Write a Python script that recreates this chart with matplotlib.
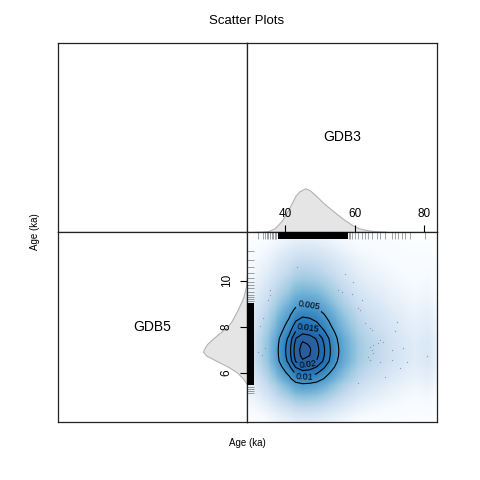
import numpy as np
import matplotlib
matplotlib.use("Agg")
import matplotlib.pyplot as plt
from matplotlib.colors import LinearSegmentedColormap, PowerNorm

plt.rcParams['font.family'] = ['Liberation Sans', 'DejaVu Sans']

# marginal density of GDB3 (relative to its peak)
gdb3_x = [31, 33, 35, 37, 39, 41, 43, 44, 45.7, 47, 49, 51, 53, 55, 57, 59, 61, 63, 65, 67, 69]
gdb3_density = [0, 0.005, 0.016, 0.09, 0.26, 0.53, 0.84, 0.93, 1.0, 0.96, 0.82, 0.66,
                0.53, 0.40, 0.28, 0.17, 0.09, 0.05, 0.025, 0.011, 0.005]

# marginal density of GDB5 (relative to its peak)
gdb5_y = [5.5, 5.75, 6.0, 6.25, 6.5, 6.75, 6.91, 7.0, 7.25, 7.5, 7.75, 8.0, 8.25,
          8.5, 8.75, 9.0, 9.25, 9.5, 9.75, 10.0, 10.25]
gdb5_density = [0, 0.09, 0.22, 0.42, 0.68, 0.93, 1.0, 0.99, 0.91, 0.77, 0.61, 0.45,
                0.35, 0.28, 0.21, 0.15, 0.09, 0.055, 0.023, 0.007, 0]

# smoothed joint density: profiles along each axis of the grid
grid_x = [29, 31, 33, 35, 37, 39, 41, 43, 45, 47, 49, 51, 53, 55, 57, 59, 61, 63,
          65, 67, 69, 71, 73, 75, 77, 79, 81, 83]
grid_x_profile = [0.002, 0.005, 0.015, 0.04, 0.11, 0.26, 0.45, 0.82, 0.98, 0.93, 0.8,
                  0.58, 0.36, 0.2, 0.11, 0.06, 0.03, 0.018, 0.012, 0.008, 0.005, 0.003,
                  0.002, 0.0012, 0.0008, 0.001, 0.0015, 0.0004]
grid_y = [4.0, 4.25, 4.5, 4.75, 5.0, 5.25, 5.5, 5.75, 6.0, 6.25, 6.5, 6.75, 7.0, 7.25,
          7.5, 7.75, 8.0, 8.25, 8.5, 8.75, 9.0, 9.25, 9.5, 9.75, 10.0, 10.25, 10.5,
          10.75, 11.0, 11.25, 11.5, 11.75, 12.0]
grid_y_profile = [0.001, 0.003, 0.009, 0.022, 0.05, 0.1, 0.17, 0.32, 0.48, 0.68, 0.9,
                  0.98, 1.0, 0.96, 0.88, 0.7, 0.55, 0.44, 0.34, 0.25, 0.17, 0.12, 0.08,
                  0.055, 0.035, 0.022, 0.014, 0.009, 0.005, 0.0025, 0.0012, 0.0005, 0.0002]
joint_peak = 0.0275
contour_levels = [0.005, 0.01, 0.015, 0.02, 0.025]

# sparse points shown by the smoothed scatter
pts_x = [57.2, 59.6, 55.3, 56.2, 59.1, 62.0, 61.0, 61.5, 72.1, 62.9, 64.4, 64.9, 71.6,
         67.3, 68.2, 66.8, 65.3, 64.4, 74.0, 64.9, 70.6, 65.3, 63.9, 64.4, 67.3, 70.6,
         74.9, 73.0, 68.7, 61.0, 80.7, 32.7, 33.6, 34.2, 33.3, 32.1, 35.0, 35.6, 43.3, 35.6]
pts_y = [10.3, 9.96, 9.6, 9.52, 9.42, 9.16, 8.8, 8.73, 8.22, 8.18, 7.93, 7.86, 7.83,
         7.42, 7.35, 7.28, 7.2, 7.13, 7.06, 6.99, 6.99, 6.84, 6.7, 6.55, 6.48, 6.55,
         6.48, 6.2, 5.83, 5.54, 6.73, 8.05, 8.36, 7.06, 6.76, 6.9, 9.16, 9.6, 10.6, 9.4]

# rugs: dense stretch plus the separate marks
gdb3_rug_dense = (37.8, 58.0)
gdb3_rug = [32.2, 33.7, 34.2, 34.6, 35.1, 35.6, 36.1, 36.5, 37.0, 37.4, 58.3, 58.6,
            59.1, 60.1, 61.0, 62.0, 63.0, 63.9, 64.9, 66.3, 67.3, 68.7, 70.6, 71.6,
            72.5, 73.5, 74.4, 75.9, 80.2]
gdb5_rug_dense = (5.45, 9.05)
gdb5_rug = [11.3, 10.9, 10.6, 10.33, 10.1, 9.95, 9.81, 9.68, 9.52, 9.4, 9.3, 9.2, 9.1,
            5.4, 5.3, 5.2, 5.1]

gdb3_ticks = [40, 60, 80]
gdb5_ticks = [6, 8, 10]
xlim = (28.98, 83.65)
ylim = (3.86, 12.12)

fig = plt.figure(figsize=(4.8, 4.8), dpi=100)
L, M, R = 0.1198, 0.5146, 0.9104
B, C, T = 0.1208, 0.5167, 0.9104
ax_tl = fig.add_axes([L, C, M - L, T - C])
ax_tr = fig.add_axes([M, C, R - M, T - C])
ax_bl = fig.add_axes([L, B, M - L, C - B])
ax_br = fig.add_axes([M, B, R - M, C - B])

for ax in (ax_tl, ax_tr, ax_bl, ax_br):
    ax.set_xticks([])
    ax.set_yticks([])
    for s in ax.spines.values():
        s.set_linewidth(0.9)
        s.set_color('#222222')

ax_tl.set_xlim(0, 1)
ax_tl.set_ylim(0, 1)

# GDB3 marginal
ax_tr.fill_between(gdb3_x, 0, gdb3_density, facecolor='#E5E5E5', edgecolor='#B3B3B3', lw=0.8)
ax_tr.set_xlim(xlim)
ax_tr.set_ylim(0, 4.33)
ax_tr.text(0.5, 0.5, 'GDB3', transform=ax_tr.transAxes, ha='center', va='center', fontsize=10)
ax_tr.set_xticks(gdb3_ticks)
ax_tr.tick_params(axis='x', direction='in', length=5, width=0.8, pad=-17, labelsize=8.5)

# GDB5 marginal
ax_bl.fill_betweenx(gdb5_y, 0, gdb5_density, facecolor='#E5E5E5', edgecolor='#B3B3B3', lw=0.8)
ax_bl.set_xlim(4.32, 0)
ax_bl.set_ylim(ylim)
ax_bl.text(0.5, 0.5, 'GDB5', transform=ax_bl.transAxes, ha='center', va='center', fontsize=10)
ax_bl.set_yticks(gdb5_ticks)
ax_bl.tick_params(axis='y', left=False, right=True, labelleft=False, labelright=True,
                  direction='in', length=5, width=0.8, pad=-19, labelsize=8.5,
                  labelrotation=90)
for lab in ax_bl.get_yticklabels():
    lab.set_verticalalignment('center')

# smoothed scatter
field = joint_peak * np.outer(grid_y_profile, grid_x_profile)
blues = ["#FFFFFF", "#F7FBFF", "#DEEBF7", "#C6DBEF", "#9ECAE1", "#6BAED6",
         "#4292C6", "#2171B5", "#2A5C9C"]
cmap = LinearSegmentedColormap.from_list('ramp', blues)
dx = (grid_x[1] - grid_x[0]) / 2
dy = (grid_y[1] - grid_y[0]) / 2
ax_br.imshow(field, origin='lower', cmap=cmap, norm=PowerNorm(0.2, vmin=0, vmax=field.max()),
             extent=(grid_x[0] - dx, grid_x[-1] + dx, grid_y[0] - dy, grid_y[-1] + dy),
             interpolation='bilinear', aspect='auto')
cs = ax_br.contour(grid_x, grid_y, field, levels=contour_levels, colors='black', linewidths=0.8)
ax_br.clabel(cs, levels=[0.005, 0.01, 0.015, 0.02], fmt=lambda v: f'{v:g}', fontsize=6.5,
             inline=True, inline_spacing=2,
             manual=[(46.8, 8.84), (46.4, 7.93), (46.2, 6.55), (45.4, 5.83)])
ax_br.scatter(pts_x, pts_y, s=0.9, color='#9A9A9A', lw=0, zorder=3)

xt = ax_br.get_xaxis_transform()
yt = ax_br.get_yaxis_transform()
rug = 0.036
ax_br.axvspan(*gdb3_rug_dense, ymin=1 - rug, ymax=1, color='black', lw=0, zorder=4)
ax_br.vlines(gdb3_rug, 1 - rug, 1, transform=xt, color='black', lw=0.5, alpha=0.5, zorder=4)
ax_br.axhspan(*gdb5_rug_dense, xmin=0, xmax=rug, color='black', lw=0, zorder=4)
ax_br.hlines(gdb5_rug, 0, rug, transform=yt, color='black', lw=0.5, alpha=0.5, zorder=4)
ax_br.set_xlim(xlim)
ax_br.set_ylim(ylim)
ax_br.set_xticks([])
ax_br.set_yticks([])

fig.text(M, 0.956, 'Scatter Plots', ha='center', va='center', fontsize=9.5)
fig.text(M, 0.077, 'Age (ka)', ha='center', va='center', fontsize=7)
fig.text(0.073, C, 'Age (ka)', ha='center', va='center', rotation=90, fontsize=7)

fig.savefig('out.png', dpi=100)
